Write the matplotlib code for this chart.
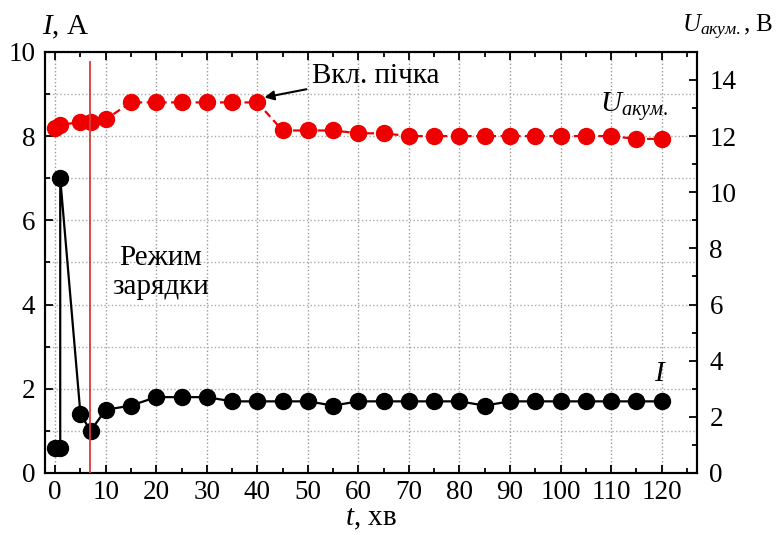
import matplotlib
matplotlib.use('Agg')
import matplotlib.pyplot as plt
from matplotlib.ticker import MultipleLocator

plt.rcParams['font.family'] = ['Liberation Serif', 'DejaVu Serif']
plt.rcParams['mathtext.fontset'] = 'custom'
plt.rcParams['mathtext.rm'] = 'Liberation Serif'
plt.rcParams['mathtext.it'] = 'Liberation Serif:italic'

# Струм I, А
t_i = [0, 1, 1, 5, 7, 10, 15, 20, 25, 30, 35, 40, 45, 50, 55, 60, 65, 70, 75, 80,
       85, 90, 95, 100, 105, 110, 115, 120]
cur = [0.6, 0.6, 7.0, 1.4, 1.0, 1.5, 1.6, 1.8, 1.8, 1.8, 1.7, 1.7, 1.7, 1.7, 1.6,
       1.7, 1.7, 1.7, 1.7, 1.7, 1.6, 1.7, 1.7, 1.7, 1.7, 1.7, 1.7, 1.7]

# Напруга акумулятора, В
t_u = [0, 1, 5, 7, 10, 15, 20, 25, 30, 35, 40, 45, 50, 55, 60, 65, 70, 75, 80,
       85, 90, 95, 100, 105, 110, 115, 120]
volt = [12.3, 12.4, 12.5, 12.5, 12.6, 13.2, 13.2, 13.2, 13.2, 13.2, 13.2, 12.2,
        12.2, 12.2, 12.1, 12.1, 12.0, 12.0, 12.0, 12.0, 12.0, 12.0, 12.0, 12.0,
        12.0, 11.9, 11.9]

t_charge = 6.8

fig = plt.figure(figsize=(7.77, 5.35), dpi=100)
ax = fig.add_axes([0.058, 0.116, 0.839, 0.787])
ax2 = ax.twinx()

ax.plot(t_i, cur, '-o', color='black', lw=1.6, ms=11.5, zorder=3)
ax2.plot(t_u, volt, '--o', color='#ee0000', lw=1.6, ms=11.5, dashes=(3.5, 2), zorder=3)
ax2.axvline(t_charge, ymax=0.975, color='#d83a3a', lw=1.3, zorder=4)

ax.set_xlim(-2, 127)
ax.set_ylim(0, 10)
ax2.set_ylim(0, 15)

ax.xaxis.set_major_locator(MultipleLocator(10))
ax.xaxis.set_minor_locator(MultipleLocator(5))
ax.yaxis.set_major_locator(MultipleLocator(2))
ax.yaxis.set_minor_locator(MultipleLocator(1))
ax2.yaxis.set_major_locator(MultipleLocator(2))
ax2.yaxis.set_minor_locator(MultipleLocator(1))

ax.grid(True, which='major', axis='x', color='#999999', ls=':', lw=1.0)
ax.grid(True, which='both', axis='y', color='#aaaaaa', ls=':', lw=1.0)

ax.tick_params(which='both', direction='in', top=True, right=False, labelsize=19.5)
ax.tick_params(which='major', length=6, width=1.3)
ax.tick_params(which='minor', length=3.5, width=1.3)
ax.tick_params(axis='y', pad=7)
ax.tick_params(axis='x', pad=5)
ax2.tick_params(which='both', direction='in', labelsize=19.5, pad=9)
ax2.tick_params(which='major', length=6, width=1.3)
ax2.tick_params(which='minor', length=3.5, width=1.3)
for a in (ax, ax2):
    for s in a.spines.values():
        s.set_linewidth(1.5)

fig.text(0.054, 0.948, '$I$, А', fontsize=21, va='center')
fig.text(0.996, 0.948, '$U_{акум.}$, В', fontsize=18, ha='right', va='center')
ax.set_xlabel('$t$, хв', fontsize=21, labelpad=1)

ax2.annotate('Вкл. пічка', xy=(40.6, 13.35), xytext=(50.8, 14.15),
             fontsize=21, ha='left', va='center',
             arrowprops=dict(arrowstyle='-|>', color='black', lw=1.5,
                             shrinkA=2, shrinkB=3, mutation_scale=14))
ax2.text(114.5, 12.45, '$U_{акум.}$', fontsize=21, ha='center', va='bottom')
ax.text(119.7, 2.05, '$I$', fontsize=21, ha='center', va='bottom')
ax.text(20.8, 4.75, 'Режим\nзарядки', fontsize=21, ha='center', va='center',
        linespacing=1.15)

fig.savefig('out.png', dpi=100)
